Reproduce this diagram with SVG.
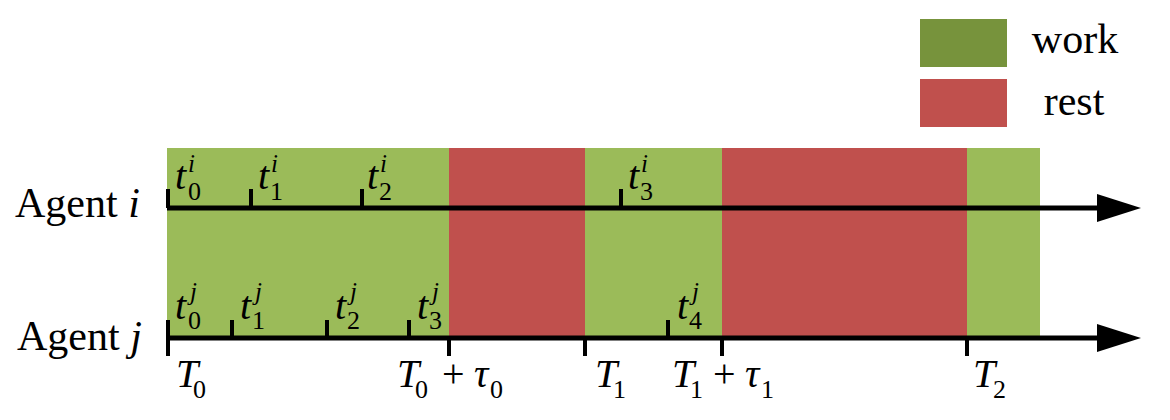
<svg xmlns="http://www.w3.org/2000/svg" width="1170" height="420" viewBox="0 0 1170 420">
<style>
text{font-family:"Liberation Serif","Times New Roman",serif;fill:#000}
.lab{font-size:42px}
.tl{font-size:40px}
.it{font-style:italic}
.sub{font-size:26px;font-style:normal}
.sup{font-size:25px;font-style:italic}
.ax{stroke:#000;stroke-width:5;fill:none}
.tk{stroke:#000;stroke-width:4;fill:none}
.g{fill:#9BBB59}
.r{fill:#C0504D}
</style>
<rect width="1170" height="420" fill="#fff"/>
<g id="bands">
<rect class="g" x="167" y="148" width="282" height="190"/>
<rect class="r" x="449" y="148" width="136" height="190"/>
<rect class="g" x="585" y="148" width="137" height="190"/>
<rect class="r" x="722" y="148" width="245" height="190"/>
<rect class="g" x="967" y="148" width="73" height="190"/>
</g>
<g id="legend">
<rect x="920" y="19" width="87" height="48" fill="#77933C"/>
<rect x="920" y="79" width="87" height="48" fill="#C0504D"/>
<text class="lab" x="1075" y="53" text-anchor="middle">work</text>
<text class="lab" x="1074" y="115" text-anchor="middle">rest</text>
</g>
<g id="connectors">
<line class="ax" x1="167" y1="208" x2="1100" y2="208"/>
<polygon points="1097,194 1141,208 1097,222" fill="#000"/>
<line class="ax" x1="167" y1="338" x2="1100" y2="338"/>
<polygon points="1097,324 1141,338 1097,352" fill="#000"/>
<g id="ticks-i">
<line class="tk" x1="168" y1="189" x2="168" y2="208"/>
<line class="tk" x1="251" y1="189" x2="251" y2="208"/>
<line class="tk" x1="362" y1="189" x2="362" y2="208"/>
<line class="tk" x1="621" y1="189" x2="621" y2="208"/>
</g>
<g id="ticks-j">
<line class="tk" x1="168" y1="320" x2="168" y2="356"/>
<line class="tk" x1="232" y1="320" x2="232" y2="338"/>
<line class="tk" x1="327" y1="320" x2="327" y2="338"/>
<line class="tk" x1="409" y1="320" x2="409" y2="338"/>
<line class="tk" x1="668" y1="320" x2="668" y2="338"/>
<line class="tk" x1="449" y1="338" x2="449" y2="356"/>
<line class="tk" x1="585" y1="338" x2="585" y2="356"/>
<line class="tk" x1="722" y1="338" x2="722" y2="356"/>
<line class="tk" x1="967" y1="338" x2="967" y2="356"/>
</g>
</g>
<g id="agent-i">
<text class="lab" x="15" y="217">Agent <tspan class="it">i</tspan></text>
</g>
<g id="agent-j">
<text class="lab" x="17" y="350">Agent <tspan class="it">j</tspan></text>
</g>
<g id="labels-i">
<text class="tl it" x="175" y="189">t<tspan class="sub" x="188" y="200">0</tspan><tspan class="sup" x="188" y="172">i</tspan></text>
<text class="tl it" x="258" y="189">t<tspan class="sub" x="270" y="200">1</tspan><tspan class="sup" x="271" y="172">i</tspan></text>
<text class="tl it" x="367" y="189">t<tspan class="sub" x="379" y="200">2</tspan><tspan class="sup" x="380" y="172">i</tspan></text>
<text class="tl it" x="628" y="189">t<tspan class="sub" x="640" y="200">3</tspan><tspan class="sup" x="641" y="172">i</tspan></text>
</g>
<g id="labels-j">
<text class="tl it" x="175" y="319">t<tspan class="sub" x="188" y="329">0</tspan><tspan class="sup" x="190" y="300">j</tspan></text>
<text class="tl it" x="240" y="319">t<tspan class="sub" x="252" y="329">1</tspan><tspan class="sup" x="255" y="300">j</tspan></text>
<text class="tl it" x="335" y="319">t<tspan class="sub" x="347" y="329">2</tspan><tspan class="sup" x="350" y="300">j</tspan></text>
<text class="tl it" x="417" y="319">t<tspan class="sub" x="429" y="329">3</tspan><tspan class="sup" x="432" y="300">j</tspan></text>
<text class="tl it" x="677" y="319">t<tspan class="sub" x="689" y="329">4</tspan><tspan class="sup" x="692" y="300">j</tspan></text>
</g>
<g id="labels-T">
<text class="tl it" x="176" y="387">T<tspan class="sub" x="193" y="398">0</tspan></text>
<text class="tl it" x="397" y="387">T<tspan class="sub" x="415" y="398">0</tspan><tspan style="font-style:normal" x="442" y="387">+</tspan><tspan x="474" y="387">τ</tspan><tspan class="sub" x="490" y="398">0</tspan></text>
<text class="tl it" x="595" y="387">T<tspan class="sub" x="613" y="398">1</tspan></text>
<text class="tl it" x="672" y="387">T<tspan class="sub" x="690" y="398">1</tspan><tspan style="font-style:normal" x="713" y="387">+</tspan><tspan x="745" y="387">τ</tspan><tspan class="sub" x="761" y="398">1</tspan></text>
<text class="tl it" x="973" y="387">T<tspan class="sub" x="993" y="398">2</tspan></text>
</g>
</svg>
